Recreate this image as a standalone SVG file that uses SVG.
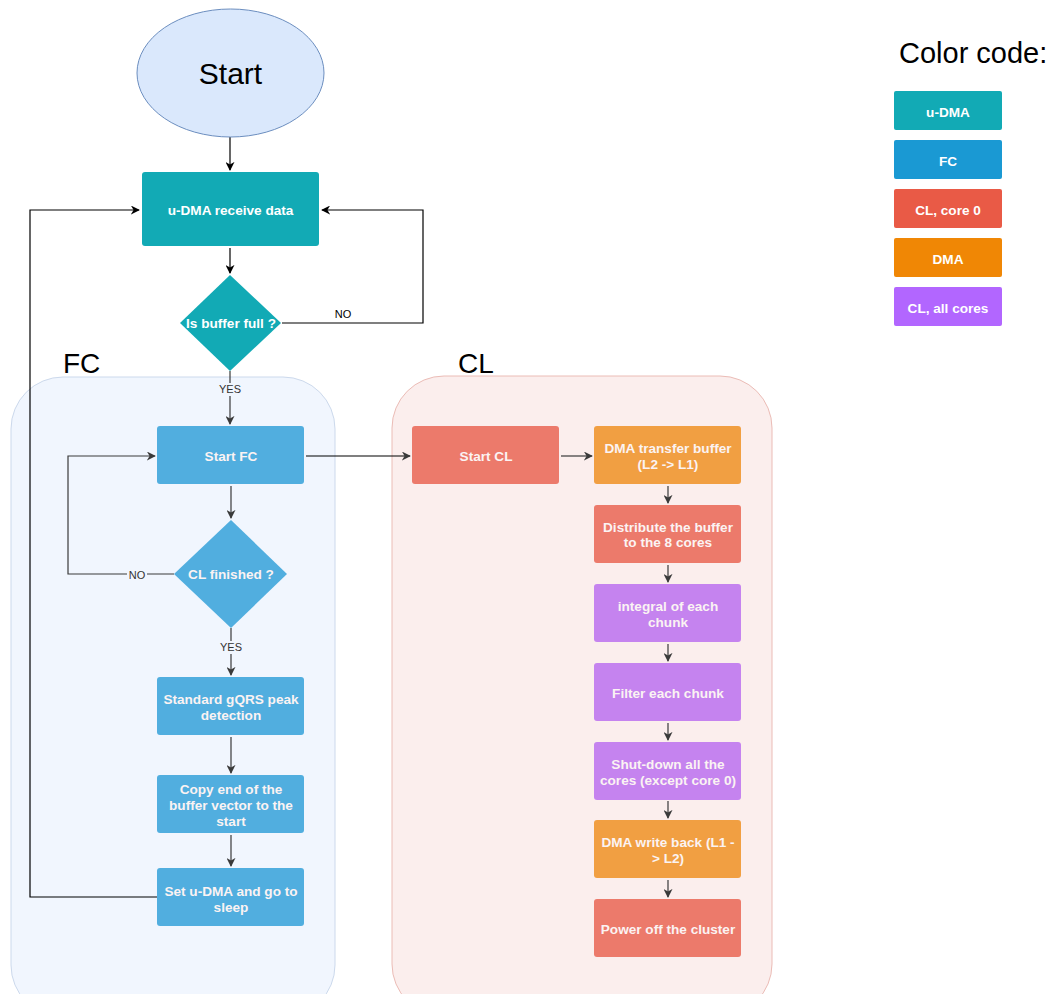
<svg xmlns="http://www.w3.org/2000/svg" width="1054" height="994" viewBox="0 0 1054 994">
<defs>
<marker id="ahk" viewBox="0 0 10 10" refX="9" refY="5" markerWidth="9" markerHeight="9" markerUnits="userSpaceOnUse" orient="auto">
<path d="M0,0 L10,5 L0,10 L3,5 z" fill="#000"/>
</marker>
<marker id="ahg" viewBox="0 0 10 10" refX="9" refY="5" markerWidth="9" markerHeight="9" markerUnits="userSpaceOnUse" orient="auto">
<path d="M0,0 L10,5 L0,10 L3,5 z" fill="#3a3a3a"/>
</marker>
</defs>
<style>
text{font-family:"Liberation Sans",Arial,sans-serif}
.t{font-size:13.6px;font-weight:bold;fill:#fff;text-anchor:middle;dominant-baseline:central}
.ti{font-size:13.6px;font-weight:bold;fill:#fbf3f3;text-anchor:middle;dominant-baseline:central}
.big{font-size:28px;fill:#000}
.lbl{font-size:11px;fill:#333;text-anchor:middle;dominant-baseline:central}
.ck{fill:none;stroke:#000;stroke-width:1.2}
.cg{fill:none;stroke:#3a3a3a;stroke-width:1.2}
.fc{fill:#51aedf}
.cl0{fill:#ec7a6b}
.dma{fill:#f19f42}
.all{fill:#c583ef}
</style>

<g id="containers">
<g id="fc-container">
<rect x="11" y="377" width="324" height="640" rx="52" fill="#f1f6fe" stroke="#ccd9ec" stroke-width="1"/>
<text x="63" y="373" class="big">FC</text>
</g>
<g id="cl-container">
<rect x="392" y="376" width="380" height="640" rx="52" fill="#fbeeed" stroke="#ebbcb6" stroke-width="1"/>
<text x="458" y="373" class="big">CL</text>
</g>
</g>

<g id="connectors">
<path class="ck" d="M230,137 V170" marker-end="url(#ahk)"/>
<path class="ck" d="M230,248 V273" marker-end="url(#ahk)"/>
<path class="ck" d="M282,323 H423 V210 H322" marker-end="url(#ahk)"/>
<text x="343" y="314" class="lbl" style="fill:#000">NO</text>
<path class="ck" d="M157,897 H30 V210 H139" marker-end="url(#ahk)"/>
<path class="cg" d="M230,371 V424" marker-end="url(#ahg)"/>
<rect x="216" y="383" width="28" height="13" fill="#f1f6fe"/>
<text x="230" y="389" class="lbl">YES</text>
<path class="cg" d="M231,486 V518" marker-end="url(#ahg)"/>
<path class="cg" d="M174,574 H68 V456 H155" marker-end="url(#ahg)"/>
<rect x="127" y="568" width="20" height="13" fill="#f1f6fe"/>
<text x="137" y="575" class="lbl">NO</text>
<path class="cg" d="M231,628 V675" marker-end="url(#ahg)"/>
<rect x="217" y="641" width="28" height="13" fill="#f1f6fe"/>
<text x="231" y="647" class="lbl">YES</text>
<path class="cg" d="M231,737 V773" marker-end="url(#ahg)"/>
<path class="cg" d="M231,835 V866" marker-end="url(#ahg)"/>
<path class="ck" d="M306,456 H410" marker-end="url(#ahg)"/>
<path class="cg" d="M561,456 H592" marker-end="url(#ahg)"/>
<path class="cg" d="M668,486 V503" marker-end="url(#ahg)"/>
<path class="cg" d="M668,565 V582" marker-end="url(#ahg)"/>
<path class="cg" d="M668,644 V661" marker-end="url(#ahg)"/>
<path class="cg" d="M668,723 V740" marker-end="url(#ahg)"/>
<path class="cg" d="M668,801 V818" marker-end="url(#ahg)"/>
<path class="cg" d="M668,880 V897" marker-end="url(#ahg)"/>
</g>

<g id="start">
<ellipse cx="230.5" cy="73" rx="93.5" ry="64" fill="#dae8fc" stroke="#6c8ebf" stroke-width="1"/>
<text x="230.5" y="73" style="font-size:30px;fill:#000;text-anchor:middle;dominant-baseline:central">Start</text>
</g>
<g id="udma-receive">
<rect x="142" y="172" width="177" height="74" rx="3" fill="#12aab5"/>
<text x="230.5" y="210" class="t">u-DMA receive data</text>
</g>
<g id="buffer-full">
<path d="M230,275 L281,323 L230,371 L180,323 Z" fill="#12aab5"/>
<text x="231" y="323" class="t">Is buffer full ?</text>
</g>
<g id="start-fc">
<rect x="157" y="426" width="147" height="58" rx="3" class="fc"/>
<text x="231" y="456" class="ti">Start FC</text>
</g>
<g id="cl-finished">
<path d="M231,520 L287,574 L231,628 L174,574 Z" class="fc"/>
<text x="231" y="574" class="ti">CL finished ?</text>
</g>
<g id="gqrs">
<rect x="157" y="677" width="147" height="58" rx="3" class="fc"/>
<text x="231" y="699" class="ti">Standard gQRS peak</text>
<text x="231" y="715" class="ti">detection</text>
</g>
<g id="copy-end">
<rect x="157" y="775" width="147" height="58" rx="3" class="fc"/>
<text x="231" y="789" class="ti">Copy end of the</text>
<text x="231" y="805" class="ti">buffer vector to the</text>
<text x="231" y="821" class="ti">start</text>
</g>
<g id="set-udma">
<rect x="157" y="868" width="147" height="58" rx="3" class="fc"/>
<text x="231" y="891" class="ti">Set u-DMA and go to</text>
<text x="231" y="907" class="ti">sleep</text>
</g>

<g id="start-cl">
<rect x="412" y="426" width="147" height="58" rx="3" class="cl0"/>
<text x="486" y="456" class="ti">Start CL</text>
</g>
<g id="dma-transfer">
<rect x="594" y="426" width="147" height="58" rx="3" class="dma"/>
<text x="668" y="448" class="ti">DMA transfer buffer</text>
<text x="668" y="464" class="ti">(L2 -&gt; L1)</text>
</g>
<g id="distribute">
<rect x="594" y="505" width="147" height="58" rx="3" class="cl0"/>
<text x="668" y="527" class="ti">Distribute the buffer</text>
<text x="668" y="542" class="ti">to the 8 cores</text>
</g>
<g id="integral">
<rect x="594" y="584" width="147" height="58" rx="3" class="all"/>
<text x="668" y="606" class="ti">integral of each</text>
<text x="668" y="622" class="ti">chunk</text>
</g>
<g id="filter">
<rect x="594" y="663" width="147" height="58" rx="3" class="all"/>
<text x="668" y="693" class="ti">Filter each chunk</text>
</g>
<g id="shutdown">
<rect x="594" y="742" width="147" height="58" rx="3" class="all"/>
<text x="668" y="764" class="ti">Shut-down all the</text>
<text x="668" y="780" class="ti">cores (except core 0)</text>
</g>
<g id="dma-write">
<rect x="594" y="820" width="147" height="58" rx="3" class="dma"/>
<text x="668" y="842" class="ti">DMA write back (L1 -</text>
<text x="668" y="858" class="ti">&gt; L2)</text>
</g>
<g id="power-off">
<rect x="594" y="899" width="147" height="58" rx="3" class="cl0"/>
<text x="668" y="929" class="ti">Power off the cluster</text>
</g>

<g id="legend">
<text x="899" y="63" class="big" style="font-size:29px">Color code:</text>
<rect x="894" y="91" width="108" height="39" rx="2" fill="#12aab5"/>
<text x="948" y="112" class="t">u-DMA</text>
<rect x="894" y="140" width="108" height="39" rx="2" fill="#1a99d3"/>
<text x="948" y="161" class="t">FC</text>
<rect x="894" y="189" width="108" height="39" rx="2" fill="#e95a46"/>
<text x="948" y="210" class="t">CL, core 0</text>
<rect x="894" y="238" width="108" height="39" rx="2" fill="#f08705"/>
<text x="948" y="259" class="t">DMA</text>
<rect x="894" y="287" width="108" height="39" rx="2" fill="#b266ff"/>
<text x="948" y="308" class="t">CL, all cores</text>
</g>
</svg>
